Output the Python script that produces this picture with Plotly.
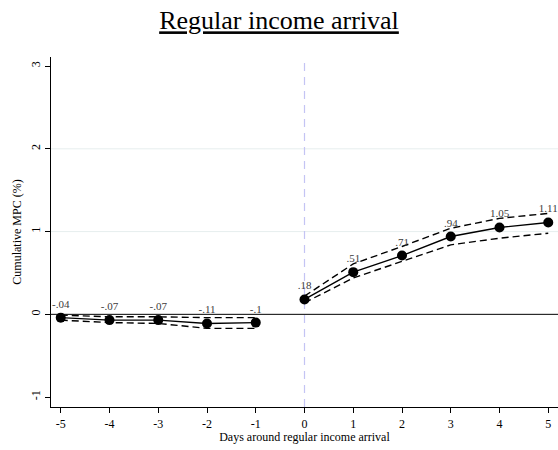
import plotly.graph_objects as go

days = [-5, -4, -3, -2, -1, 0, 1, 2, 3, 4, 5]
mpc = [-0.04, -0.07, -0.07, -0.11, -0.10, 0.18, 0.51, 0.71, 0.94, 1.05, 1.11]
ci_upper = [-0.01, -0.03, -0.03, -0.04, -0.04, 0.22, 0.61, 0.82, 1.04, 1.16, 1.22]
ci_lower = [-0.07, -0.10, -0.11, -0.17, -0.17, 0.14, 0.44, 0.64, 0.84, 0.92, 0.98]
point_labels = ["-.04", "-.07", "-.07", "-.11", "-.1", ".18", ".51", ".71", ".94", "1.05", "1.11"]

x_ticks = [-5, -4, -3, -2, -1, 0, 1, 2, 3, 4, 5]
y_ticks = [-1, 0, 1, 2, 3]

FONT = "Liberation Serif, Times New Roman, serif"

fig = go.Figure()

pre = [i for i, d in enumerate(days) if d < 0]
post = [i for i, d in enumerate(days) if d >= 0]

for seg in (pre, post):
    xs = [days[i] for i in seg]
    for ci in (ci_upper, ci_lower):
        fig.add_trace(go.Scatter(
            x=xs, y=[ci[i] for i in seg], mode="lines",
            line=dict(color="black", width=1.4, dash="7px,4px"),
            showlegend=False, hoverinfo="skip"))
    fig.add_trace(go.Scatter(
        x=xs, y=[mpc[i] for i in seg], mode="lines+markers+text",
        line=dict(color="black", width=1.4),
        marker=dict(color="black", size=10),
        text=[point_labels[i] for i in seg], textposition="top center",
        textfont=dict(family=FONT, size=11, color="#3c3c3c"),
        showlegend=False))

# light gridlines
for g in (1, 2):
    fig.add_hline(y=g, line=dict(color="#e6eeee", width=1), layer="below")
# zero line
fig.add_hline(y=0, line=dict(color="black", width=1), layer="below")
# event line
fig.add_vline(x=0, line=dict(color="#c4c4f4", width=1.2, dash="8px,6px"), layer="below")

fig.update_layout(
    width=558, height=450,
    margin=dict(l=51, r=0, t=57, b=43),
    paper_bgcolor="white", plot_bgcolor="white",
    font=dict(family=FONT, color="black"),
    title=dict(text="<u>Regular income arrival</u>", x=0.5, xanchor="center",
               y=0.955, yanchor="middle",
               font=dict(family=FONT, size=26, color="black")),
    xaxis=dict(range=[-5.2, 5.2], tickvals=x_ticks, ticktext=[str(v) for v in x_ticks],
               showgrid=False, zeroline=False, showline=True, linecolor="black", linewidth=1.2,
               ticks="outside", ticklen=5, tickcolor="black", tickwidth=1,
               tickfont=dict(family=FONT, size=12, color="black"),
               title=dict(text="Days around regular income arrival", standoff=2,
                          font=dict(family=FONT, size=12, color="black"))),
    yaxis=dict(range=[-1.12, 3.11], tickvals=y_ticks, ticktext=[str(v) for v in y_ticks],
               showgrid=False, zeroline=False, showline=True, linecolor="black", linewidth=1.2,
               ticks="outside", ticklen=5, tickcolor="black", tickwidth=1, tickangle=-90,
               tickfont=dict(family=FONT, size=12, color="black"),
               title=dict(text="Cumulative MPC (%)", standoff=4,
                          font=dict(family=FONT, size=12, color="black"))),
)

fig.write_html("out.html")
